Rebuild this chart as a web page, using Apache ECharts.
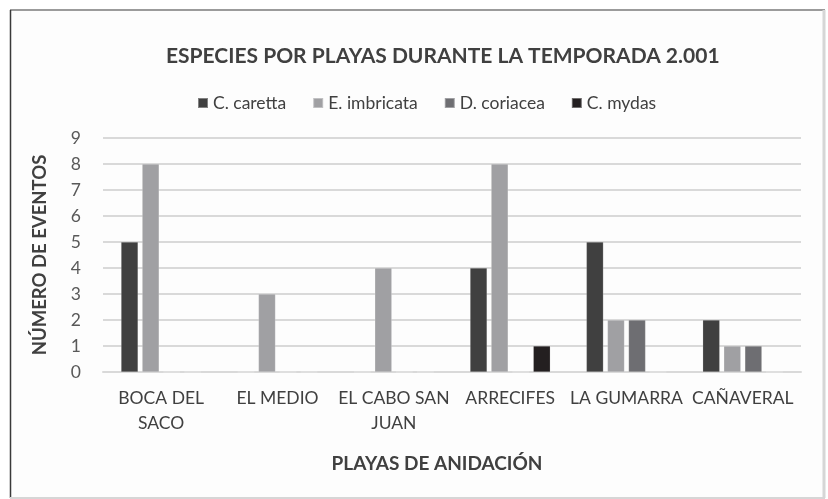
<!DOCTYPE html>
<html>
<head>
<meta charset="utf-8">
<script src="https://cdn.jsdelivr.net/npm/echarts@6/dist/echarts.min.js"></script>
<style>
html,body{margin:0;padding:0;background:#fff;}
#c{width:828px;height:499px;}
</style>
</head>
<body>
<div id="c"></div>
<script>
var categories = ['BOCA DEL SACO', 'EL MEDIO', 'EL CABO SAN JUAN', 'ARRECIFES', 'LA GUMARRA', 'CAÑAVERAL'];
var tickLabels = ['BOCA DEL\nSACO', 'EL MEDIO', 'EL CABO SAN\nJUAN', 'ARRECIFES', 'LA GUMARRA', 'CAÑAVERAL'];
var seriesNames = ['C. caretta', 'E. imbricata', 'D. coriacea', 'C. mydas'];
var caretta = [5, 0, 0, 4, 5, 2];
var imbricata = [8, 3, 4, 8, 2, 1];
var coriacea = [0, 0, 0, 0, 2, 1];
var mydas = [0, 0, 0, 1, 0, 0];
var seriesData = [caretta, imbricata, coriacea, mydas];
var colors = ['#404040', '#a0a0a3', '#6e6e72', '#231f20'];

var FONT = 'Lato, "Open Sans", sans-serif';
var chart = echarts.init(document.getElementById('c'), null, {renderer: 'canvas'});
chart.setOption({
  backgroundColor: '#ffffff',
  animation: false,
  color: colors,
  graphic: [
    {type: 'rect', shape: {x: 10, y: 10, width: 815, height: 488}, style: {fill: '#fdfdfd', stroke: null}, z: -10},
    {type: 'line', shape: {x1: 10, y1: 10, x2: 825, y2: 10}, style: {stroke: '#7a7a7a', lineWidth: 1.5}, z: -5},
    {type: 'line', shape: {x1: 10.5, y1: 10, x2: 10.5, y2: 498}, style: {stroke: '#3a3a3a', lineWidth: 1.5}, z: -5},
    {type: 'line', shape: {x1: 824, y1: 10, x2: 824, y2: 498}, style: {stroke: '#d6d6d6', lineWidth: 3}, z: -5},
    {type: 'line', shape: {x1: 10, y1: 498, x2: 825, y2: 498}, style: {stroke: '#d6d6d6', lineWidth: 2}, z: -5}
  ],
  title: {
    text: 'ESPECIES POR PLAYAS DURANTE LA TEMPORADA 2.001',
    left: 161,
    top: 41,
    textStyle: {fontFamily: FONT, fontSize: 21, fontWeight: 'bold', color: '#404040'}
  },
  legend: {
    data: seriesNames,
    top: 89,
    left: 192,
    itemWidth: 10,
    itemHeight: 10,
    itemGap: 26,
    icon: 'rect',
    textStyle: {fontFamily: FONT, fontSize: 17.5, color: '#404040', padding: [0, 0, 0, 0]}
  },
  grid: {left: 103, right: 27, top: 138, bottom: 127, containLabel: false},
  xAxis: {
    type: 'category',
    data: categories,
    name: 'PLAYAS DE ANIDACIÓN',
    nameLocation: 'middle',
    nameGap: 82,
    nameTextStyle: {fontFamily: FONT, fontSize: 19, fontWeight: 'bold', color: '#404040', padding: [0, 30, 0, 0]},
    axisLine: {show: true, lineStyle: {color: '#d9d9d9', width: 2}},
    axisTick: {show: false},
    axisLabel: {
      interval: 0,
      margin: 14,
      lineHeight: 25,
      fontFamily: FONT, fontSize: 17.5, color: '#404040',
      formatter: function (v, i) { return tickLabels[i]; }
    }
  },
  yAxis: {
    type: 'value',
    min: 0, max: 9, interval: 1,
    name: 'NÚMERO DE EVENTOS',
    nameLocation: 'middle',
    nameGap: 53,
    nameRotate: 90,
    nameTextStyle: {fontFamily: FONT, fontSize: 18.5, fontWeight: 'bold', color: '#404040'},
    axisLine: {show: false},
    axisTick: {show: false},
    splitLine: {lineStyle: {color: '#d9d9d9', width: 2}},
    axisLabel: {fontFamily: FONT, fontSize: 17.5, color: '#595959', margin: 22}
  },
  series: seriesNames.map(function (n, i) {
    return {
      name: n,
      type: 'bar',
      data: seriesData[i],
      barWidth: 17,
      barGap: '24%',
      itemStyle: {color: colors[i], borderColor: 'rgba(255,255,255,0.35)', borderWidth: 0.5}
    };
  })
});
</script>
</body>
</html>
